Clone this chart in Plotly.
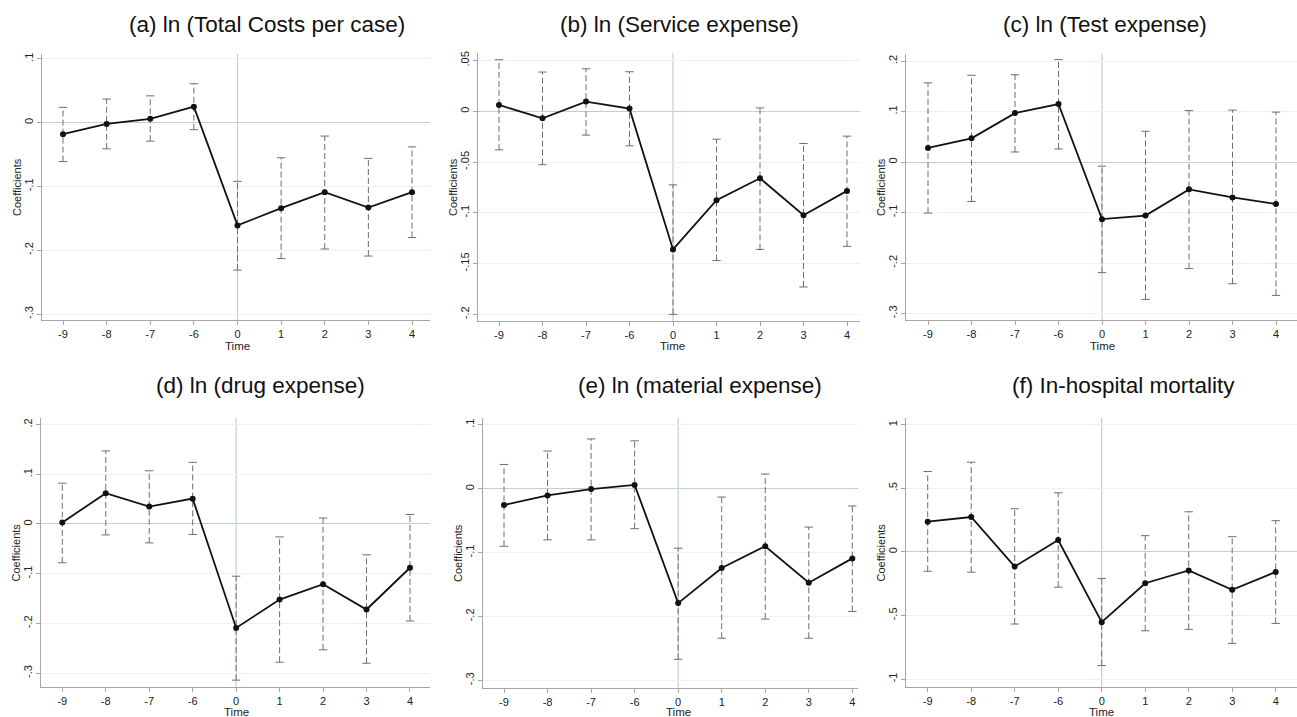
import plotly.graph_objects as go

times = ["-9", "-8", "-7", "-6", "0", "1", "2", "3", "4"]

titles = ["(a) ln (Total Costs per case)", "(b) ln (Service expense)", "(c) ln (Test expense)",
          "(d) ln (drug expense)", "(e) ln (material expense)", "(f) In-hospital mortality"]

coef_a = [-0.018, -0.002, 0.006, 0.025, -0.161, -0.134, -0.109, -0.133, -0.109]
hi_a = [0.024, 0.037, 0.042, 0.061, -0.092, -0.055, -0.021, -0.056, -0.038]
lo_a = [-0.061, -0.041, -0.029, -0.011, -0.231, -0.213, -0.198, -0.209, -0.180]

coef_b = [0.0062, -0.0069, 0.0095, 0.0026, -0.136, -0.0876, -0.066, -0.1023, -0.0784]
hi_b = [0.0507, 0.0386, 0.0418, 0.0389, -0.0725, -0.0275, 0.0033, -0.0317, -0.0245]
lo_b = [-0.038, -0.0526, -0.0235, -0.034, -0.200, -0.147, -0.136, -0.173, -0.133]

coef_c = [0.028, 0.047, 0.097, 0.115, -0.113, -0.106, -0.054, -0.070, -0.083]
hi_c = [0.157, 0.172, 0.173, 0.203, -0.008, 0.061, 0.102, 0.103, 0.099]
lo_c = [-0.101, -0.078, 0.020, 0.026, -0.219, -0.272, -0.211, -0.241, -0.264]

coef_d = [0.003, 0.062, 0.035, 0.051, -0.209, -0.152, -0.121, -0.172, -0.088]
hi_d = [0.082, 0.147, 0.107, 0.124, -0.105, -0.026, 0.012, -0.062, 0.019]
lo_d = [-0.078, -0.022, -0.038, -0.021, -0.314, -0.278, -0.253, -0.280, -0.195]

coef_e = [-0.0255, -0.0104, -0.0005, 0.006, -0.179, -0.124, -0.090, -0.147, -0.109]
hi_e = [0.038, 0.059, 0.078, 0.075, -0.093, -0.013, 0.023, -0.060, -0.027]
lo_e = [-0.090, -0.080, -0.080, -0.0625, -0.267, -0.234, -0.204, -0.234, -0.192]

coef_f = [0.238, 0.275, -0.115, 0.094, -0.552, -0.246, -0.146, -0.298, -0.157]
hi_f = [0.633, 0.706, 0.340, 0.465, -0.209, 0.128, 0.316, 0.120, 0.246]
lo_f = [-0.152, -0.159, -0.567, -0.277, -0.894, -0.620, -0.609, -0.719, -0.562]

ytick_vals = {
    "a": [0.1, 0, -0.1, -0.2, -0.3],
    "b": [0.05, 0, -0.05, -0.1, -0.15, -0.2],
    "c": [0.2, 0.1, 0, -0.1, -0.2, -0.3],
    "d": [0.2, 0.1, 0, -0.1, -0.2, -0.3],
    "e": [0.1, 0, -0.1, -0.2, -0.3],
    "f": [1, 0.5, 0, -0.5, -1],
}
ytick_text = {
    "a": [".1", "0", "-.1", "-.2", "-.3"],
    "b": [".05", "0", "-.05", "-.1", "-.15", "-.2"],
    "c": [".2", ".1", "0", "-.1", "-.2", "-.3"],
    "d": [".2", ".1", "0", "-.1", "-.2", "-.3"],
    "e": [".1", "0", "-.1", "-.2", "-.3"],
    "f": ["1", ".5", "0", "-.5", "-1"],
}

series = [("a", coef_a, hi_a, lo_a), ("b", coef_b, hi_b, lo_b), ("c", coef_c, hi_c, lo_c),
          ("d", coef_d, hi_d, lo_d), ("e", coef_e, hi_e, lo_e), ("f", coef_f, hi_f, lo_f)]

# layout geometry (pixels): left, right, top, bottom, first-category px, spacing px, y range
W, H = 1297, 717
geom = {
    "a": dict(L=42, R=430, T=52, B=319, c0=63, s=43.625, yr=[-0.3094, 0.1078], tx=267, ty=23, tt=345),
    "b": dict(L=478, R=860, T=51, B=320, c0=499, s=43.5, yr=[-0.2066, 0.0575], tx=679, ty=23, tt=345),
    "c": dict(L=906, R=1297, T=52, B=319, c0=928, s=43.5, yr=[-0.313, 0.2144], tx=1105, ty=23, tt=345),
    "d": dict(L=41, R=430, T=417, B=687, c0=62.3, s=43.46, yr=[-0.328, 0.2135], tx=260, ty=385, tt=712),
    "e": dict(L=483, R=858, T=417, B=688, c0=504, s=43.54, yr=[-0.312, 0.111], tx=700, ty=385, tt=712),
    "f": dict(L=906, R=1297, T=417, B=687, c0=927.7, s=43.5, yr=[-1.063, 1.055], tx=1123, ty=385, tt=712),
}

FONT = "Arial, Liberation Sans, sans-serif"
AXC = "#a6a6a6"
GRID = "#e9f1f1"
REFC = "#bfd1cd"

fig = go.Figure()
annotations = []
shapes = []
xidx = list(range(len(times)))
zero_idx = times.index("0")

for k, (key, coef, hi, lo) in enumerate(series):
    g = geom[key]
    n = "" if k == 0 else str(k + 1)
    xa, ya = "x" + n, "y" + n
    # error bar stems
    ex, ey = [], []
    for i in xidx:
        ex += [i, i, None]
        ey += [lo[i], hi[i], None]
    fig.add_trace(go.Scatter(x=ex, y=ey, mode="lines", xaxis=xa, yaxis=ya,
                             line=dict(color="#6e6e6e", width=1, dash="6px,3px"),
                             showlegend=False, hoverinfo="skip"))
    # caps
    fig.add_trace(go.Scatter(x=xidx + xidx, y=hi + lo, mode="markers", xaxis=xa, yaxis=ya,
                             marker=dict(symbol="line-ew", size=6, line=dict(color="#6e6e6e", width=1)),
                             showlegend=False, hoverinfo="skip"))
    # coefficients
    fig.add_trace(go.Scatter(x=xidx, y=coef, mode="lines+markers", xaxis=xa, yaxis=ya,
                             line=dict(color="#111111", width=1.8),
                             marker=dict(color="#111111", size=6),
                             showlegend=False))
    xmin = (g["L"] - g["c0"]) / g["s"]
    xmax = (g["R"] - g["c0"]) / g["s"]
    xd = [g["L"] / W, g["R"] / W]
    yd = [1 - g["B"] / H, 1 - g["T"] / H]
    fig.layout["xaxis" + n] = dict(
        domain=xd, anchor=ya, range=[xmin, xmax], tickmode="array", tickvals=xidx, ticktext=times,
        showgrid=False, zeroline=False, showline=True, linecolor=AXC, linewidth=1.2,
        ticks="outside", ticklen=4, tickcolor=AXC, tickfont=dict(size=11, color="#222", family=FONT),
    )
    fig.layout["yaxis" + n] = dict(
        domain=yd, anchor=xa, range=g["yr"], tickmode="array",
        tickvals=ytick_vals[key], ticktext=ytick_text[key], tickangle=-90,
        showgrid=True, gridcolor=GRID, gridwidth=1,
        zeroline=True, zerolinecolor=REFC, zerolinewidth=1.2,
        showline=True, linecolor=AXC, linewidth=1.2,
        ticks="outside", ticklen=4, tickcolor=AXC, tickfont=dict(size=11, color="#222", family=FONT),
    )
    shapes.append(dict(type="line", xref=xa, yref=ya + " domain", x0=zero_idx, x1=zero_idx, y0=0, y1=1,
                       line=dict(color=REFC, width=1.2), layer="below"))
    annotations.append(dict(text=titles[k], x=g["tx"] / W, y=1 - g["ty"] / H, xref="paper", yref="paper",
                            showarrow=False, xanchor="center", yanchor="middle",
                            font=dict(size=22.5, color="#111", family=FONT)))
    annotations.append(dict(text="Coefficients", textangle=-90, x=(g["L"] - 25) / W,
                            y=1 - (g["T"] + g["B"]) / 2 / H, xref="paper", yref="paper",
                            showarrow=False, xanchor="center", yanchor="middle",
                            font=dict(size=11, color="#222", family=FONT)))
    annotations.append(dict(text="Time", x=(g["c0"] + zero_idx * g["s"]) / W, y=1 - g["tt"] / H,
                            xref="paper", yref="paper", showarrow=False, xanchor="center", yanchor="middle",
                            font=dict(size=11.5, color="#222", family=FONT)))

fig.update_layout(width=W, height=H, margin=dict(l=0, r=0, t=0, b=0),
                  paper_bgcolor="white", plot_bgcolor="white",
                  annotations=annotations, shapes=shapes, showlegend=False,
                  font=dict(family=FONT))
fig.write_html("out.html", config={"displayModeBar": False},
               post_script="document.body.style.margin='0';document.body.style.overflow='hidden';")
